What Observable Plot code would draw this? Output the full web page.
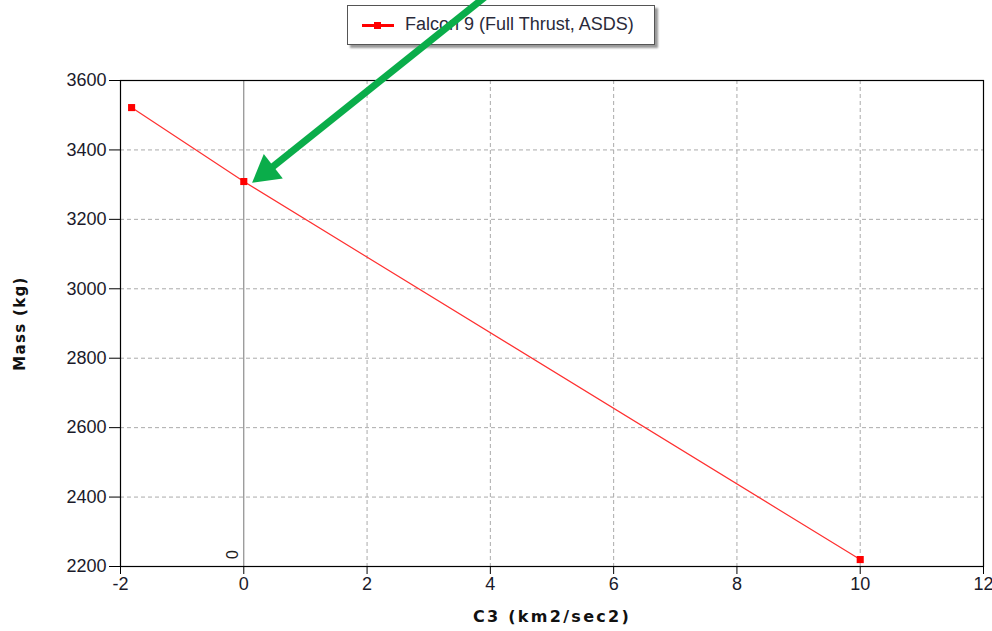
<!DOCTYPE html>
<html>
<head>
<meta charset="utf-8">
<script src="https://cdn.jsdelivr.net/npm/d3@7"></script>
<script src="https://cdn.jsdelivr.net/npm/@observablehq/plot@0.6"></script>
<style>
  html, body { margin: 0; padding: 0; background: white; }
  #wrap { position: relative; width: 992px; height: 631px; }
  #legend {
    position: absolute; left: 347px; top: 5px; width: 306px; height: 38px;
    border: 1px solid #555; background: white; box-shadow: 3px 3px 2px #999;
    font-family: "Liberation Sans", Arial, sans-serif; font-size: 18px; color: #2a2a3a;
    z-index: 0;
  }
  #legend .ln { position: absolute; left: 14px; top: 18px; width: 32px; height: 3px; background: #ff0000; }
  #legend .mk { position: absolute; left: 26px; top: 16px; width: 7px; height: 7px; background: #ff0000; }
  #legend .tx { position: absolute; left: 57px; top: 8px; white-space: nowrap; }
  #chart { position: absolute; left: 0; top: 0; z-index: 1; }
</style>
</head>
<body>
<div id="wrap">
  <div id="legend"><div class="ln"></div><div class="mk"></div><div class="tx">Falcon 9 (Full Thrust, ASDS)</div></div>
  <div id="chart"></div>
</div>
<script>
const seriesName = "Falcon 9 (Full Thrust, ASDS)";
const c3 = [-1.82, 0, 10];
const mass = [3522, 3309, 2220];
const xTicks = [-2, 0, 2, 4, 6, 8, 10, 12];
const yTicks = [2200, 2400, 2600, 2800, 3000, 3200, 3400, 3600];
const xGrid = [2, 4, 6, 8, 10];
const yGrid = [2400, 2600, 2800, 3000, 3200, 3400];
// annotation arrow (data coords)
const arrowStart = {x: 4.0, y: 3853};
const arrowShaftEnd = {x: 0.424, y: 3345};
const arrowHead = {x: 0.364, y: 3337};

const data = c3.map((v, i) => ({c3: v, mass: mass[i]}));
const font = "'Liberation Sans', Arial, sans-serif";
const titleFont = "'DejaVu Sans', Verdana, sans-serif";

const plot = Plot.plot({
  width: 992,
  height: 631,
  marginLeft: 120,
  marginRight: 9,
  marginTop: 80,
  marginBottom: 65,
  style: {background: "transparent", fontFamily: font, fontSize: "18px", color: "#1a1a2a"},
  x: {domain: [-2, 12], ticks: xTicks, label: null},
  y: {domain: [2200, 3600], ticks: yTicks, label: null},
  marks: [
    Plot.ruleX(xGrid, {stroke: "#aaa", strokeDasharray: "4,3", strokeWidth: 1}),
    Plot.ruleY(yGrid, {stroke: "#aaa", strokeDasharray: "4,3", strokeWidth: 1}),
    Plot.ruleX([0], {stroke: "#777", strokeWidth: 1}),
    Plot.frame({stroke: "#000", strokeWidth: 1.2}),
    Plot.axisX({ticks: xTicks, tickFormat: d => String(d), tickSize: 8, tickPadding: 3, fontSize: 18, stroke: "#000", label: null}),
    Plot.axisY({ticks: yTicks, tickFormat: d => String(d), tickSize: 11, tickPadding: 3, fontSize: 18, stroke: "#000", label: null}),
    Plot.text(["C3 (km2/sec2)"], {frameAnchor: "bottom", dy: 55, fontWeight: "bold", fontFamily: titleFont, fontSize: 16, fill: "#111"}),
    Plot.text(["Mass (kg)"], {frameAnchor: "left", textAnchor: "middle", dx: -100, rotate: -90, fontWeight: "bold", fontFamily: titleFont, fontSize: 15, fill: "#111"}),
    Plot.text([0], {x: d => d, y: () => 2200, dx: -11, dy: -12, rotate: -90, text: d => String(d), fontSize: 16, fill: "#222"}),
    Plot.line(data, {x: "c3", y: "mass", stroke: "#ff3030", strokeWidth: 1.2}),
    Plot.dot(data, {x: "c3", y: "mass", symbol: "square", r: 4, fill: "#ff0000", stroke: "none"}),
    Plot.link([0], {x1: () => arrowStart.x, y1: () => arrowStart.y, x2: () => arrowShaftEnd.x, y2: () => arrowShaftEnd.y, stroke: "#0aad4a", strokeWidth: 7, clip: false}),
    Plot.dot([0], {x: () => arrowHead.x, y: () => arrowHead.y, symbol: "triangle", r: 11.5, rotate: 232.2, fill: "#0aad4a", stroke: "none"})
  ]
});
plot.querySelectorAll("text").forEach(t => {
  if (t.textContent === "C3 (km2/sec2)") t.setAttribute("letter-spacing", "2.3");
  if (t.textContent === "Mass (kg)") t.setAttribute("letter-spacing", "1.3");
});
document.getElementById("chart").appendChild(plot);
</script>
</body>
</html>
